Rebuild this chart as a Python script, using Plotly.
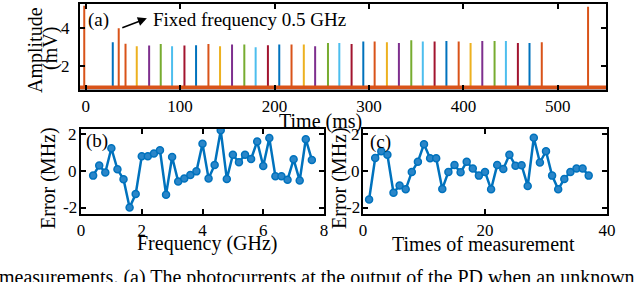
import plotly.graph_objects as go

W, H = 640, 282
def px(x): return x / W
def py(y): return 1 - y / H

FONT = "Liberation Serif"
COLORS = ["#0072BD", "#D95319", "#EDB120", "#7E2F8E", "#77AC30", "#4DBEEE", "#A2142F"]
BLUE = "#0072BD"

# ---------------- Data ----------------
# (a) photocurrent spikes
spike_times = [28.7, 42.2, 54.1, 67.2, 79.5, 91.5, 104.6, 116.9, 130.0, 142.3,
               155.0, 168.0, 180.0, 193.0, 205.0, 218.0, 231.0, 243.0, 256.6, 268.6,
               281.6, 294.0, 306.0, 319.0, 331.7, 344.8, 357.0, 369.5, 382.0, 395.0,
               407.6, 420.0, 433.0, 445.0, 457.7, 470.0, 483.0]
spike_peaks = [3.26, 3.19, 3.05, 3.09, 3.17, 3.05, 3.09, 3.10, 3.17, 3.05,
               3.14, 3.14, 3.00, 3.10, 3.14, 3.14, 3.14, 3.05, 3.23, 3.23,
               3.17, 3.30, 3.30, 3.26, 3.23, 3.37, 3.30, 3.30, 3.33, 3.30,
               3.23, 3.33, 3.33, 3.33, 3.23, 3.23, 3.26]
ref_times = [-1.5, 35.0, 532.0]
ref_peaks = [5.2, 4.0, 5.15]
noise_level = 0.87
noise_floor = 0.80
time_span = [-6, 551]
amp_ticks = [2, 4]
amp_labels = ["2", "4"]

# (b) error vs frequency
freqs = [0.4, 0.6, 0.8, 1.0, 1.2, 1.4, 1.6, 1.8, 2.0, 2.2, 2.4, 2.6, 2.8, 3.0,
         3.2, 3.4, 3.6, 3.8, 4.0, 4.2, 4.4, 4.6, 4.8, 5.0, 5.2, 5.4, 5.6, 5.8,
         6.0, 6.2, 6.4, 6.6, 6.8, 7.0, 7.2, 7.4, 7.6]
freq_err = [-0.25, 0.30, -0.08, 1.23, 0.09, -0.45, -1.98, -1.25, 0.80, 0.80,
            0.95, 1.12, -1.28, 0.76, -0.57, -0.40, -0.22, -0.02, 1.48, -0.40,
            0.33, 2.20, -0.43, 0.88, 0.47, 0.88, 0.65, 1.60, 0.27, 1.78,
            -0.29, -0.29, -0.47, 0.63, -0.52, 1.72, 0.60]

# (c) error vs times of measurement
meas_idx = [1, 2, 3, 4, 5, 6, 7, 8, 9, 10, 11, 12, 13, 14, 15, 16, 17, 18, 19,
            20, 21, 22, 23, 24, 25, 26, 27, 28, 29, 30, 31, 32, 33, 34, 35, 36, 37]
meas_err = [-1.54, 0.70, 1.07, 0.88, -1.18, -0.79, -0.99, -0.05, 0.50, 1.45,
            0.69, 0.69, -0.97, -0.05, 0.32, -0.07, 0.50, 0.14, -0.25, -0.05,
            -0.99, 0.32, 0.11, 0.88, 0.29, 0.31, -0.81, 1.80, 0.46, 1.07,
            -0.25, -0.99, -0.43, -0.05, 0.14, 0.14, -0.25]
err_ticks = [-2, 0, 2]
err_labels = ["-2", "0", "2"]

# ---------------- Figure ----------------
fig = go.Figure()

# baseline noise band (a)
fig.add_trace(go.Scatter(x=time_span, y=[noise_floor, noise_floor], mode="lines",
                         line=dict(color="#3b6f9a", width=3), xaxis="x", yaxis="y",
                         hoverinfo="skip", showlegend=False))
for i, (t, p) in enumerate(zip(spike_times, spike_peaks)):
    fig.add_trace(go.Scatter(x=[t, t], y=[noise_level, p], mode="lines",
                             line=dict(color=COLORS[i % 7], width=2),
                             xaxis="x", yaxis="y", showlegend=False))
for t, p in zip(ref_times, ref_peaks):
    fig.add_trace(go.Scatter(x=[t, t], y=[noise_level, p], mode="lines",
                             line=dict(color=COLORS[1], width=2),
                             xaxis="x", yaxis="y", showlegend=False))
fig.add_trace(go.Scatter(x=time_span, y=[noise_level, noise_level], mode="lines",
                         line=dict(color=COLORS[1], width=4), xaxis="x", yaxis="y",
                         hoverinfo="skip", showlegend=False))

marker = dict(symbol="circle", size=7, color="#2a86c9", line=dict(color=BLUE, width=1.5))
fig.add_trace(go.Scatter(x=freqs, y=freq_err, mode="lines+markers",
                         line=dict(color=BLUE, width=2.5), marker=marker,
                         xaxis="x2", yaxis="y2", showlegend=False))
fig.add_trace(go.Scatter(x=meas_idx, y=meas_err, mode="lines+markers",
                         line=dict(color=BLUE, width=2.5), marker=marker,
                         xaxis="x3", yaxis="y3", showlegend=False))

axis_common = dict(showline=True, linecolor="black", linewidth=2, mirror="ticks",
                   ticks="inside", ticklen=5, tickwidth=1.5, tickcolor="black",
                   showgrid=False, zeroline=False, automargin=False,
                   tickfont=dict(family=FONT, size=17, color="black"))

fig.update_layout(
    width=W, height=H, margin=dict(l=0, r=0, t=0, b=0, autoexpand=False),
    paper_bgcolor="white", plot_bgcolor="white",
    font=dict(family=FONT, color="black"),
    xaxis=dict(domain=[px(80), px(606)], range=time_span, anchor="y",
               tickvals=[0, 100, 200, 300, 400, 500], **axis_common),
    yaxis=dict(domain=[py(89.5), py(4)], range=[0.76, 5.29], anchor="x",
               tickvals=amp_ticks, showticklabels=False, **axis_common),
    xaxis2=dict(domain=[px(81), px(324)], range=[0, 8], anchor="y2",
                tickvals=[0, 2, 4, 6, 8], **axis_common),
    yaxis2=dict(domain=[py(213.5), py(128.5)], range=[-2.3, 2.3], anchor="x2",
                tickvals=err_ticks, showticklabels=False, **axis_common),
    xaxis3=dict(domain=[px(363), px(607)], range=[0, 40], anchor="y3",
                tickvals=[0, 20, 40], **axis_common),
    yaxis3=dict(domain=[py(213.5), py(128.5)], range=[-2.3, 2.3], anchor="x3",
                tickvals=err_ticks, showticklabels=False, **axis_common),
)

# y tick labels placed at the axis tick values
for yref, right_px, vals, labs in [("y", 72, amp_ticks, amp_labels),
                                   ("y2", 79, err_ticks, err_labels),
                                   ("y3", 362, err_ticks, err_labels)]:
    for v, lab in zip(vals, labs):
        fig.add_annotation(text=lab, x=px(right_px), y=v, xref="paper", yref=yref,
                           showarrow=False, xanchor="right", yanchor="middle",
                           font=dict(family=FONT, size=17, color="black"))

def txt(text, x, y, size=20, angle=0, xanchor="center", yanchor="middle"):
    fig.add_annotation(text=text, x=px(x), y=py(y), xref="paper", yref="paper",
                       showarrow=False, textangle=angle, xanchor=xanchor, yanchor=yanchor,
                       font=dict(family=FONT, size=size, color="black"))

txt("Amplitude", 35, 50, size=20, angle=-90)
txt("(mV)", 51, 49, size=20, angle=-90)
txt("Time (ms)", 320, 121, size=20)
txt("Error (MHz)", 48, 178, size=20, angle=-90)
txt("Frequency (GHz)", 207, 243, size=20)
txt("Error (MHz)", 339, 178, size=20, angle=-90)
txt("Times of measurement", 483, 244, size=20)
txt("(a)", 86, 20, size=19, xanchor="left")
txt("(b)", 84, 141, size=19, xanchor="left")
txt("(c)", 368, 142, size=19, xanchor="left")
txt("Fixed frequency 0.5 GHz", 151, 20, size=19, xanchor="left")
txt("measurements. (a) The photocurrents at the output of the PD when an unknown",
    -3, 264, size=20, xanchor="left", yanchor="top")

# arrow from fixed-frequency spike toward the label
fig.add_annotation(x=64.8, y=4.53, ax=37.2, ay=4.0, xref="x", yref="y", axref="x", ayref="y",
                   text="", showarrow=True, arrowhead=2, arrowsize=1.2, arrowwidth=1.5,
                   arrowcolor="black")

fig.write_html("out.html", config={"displayModeBar": False},
               post_script="document.body.style.margin='0';")
